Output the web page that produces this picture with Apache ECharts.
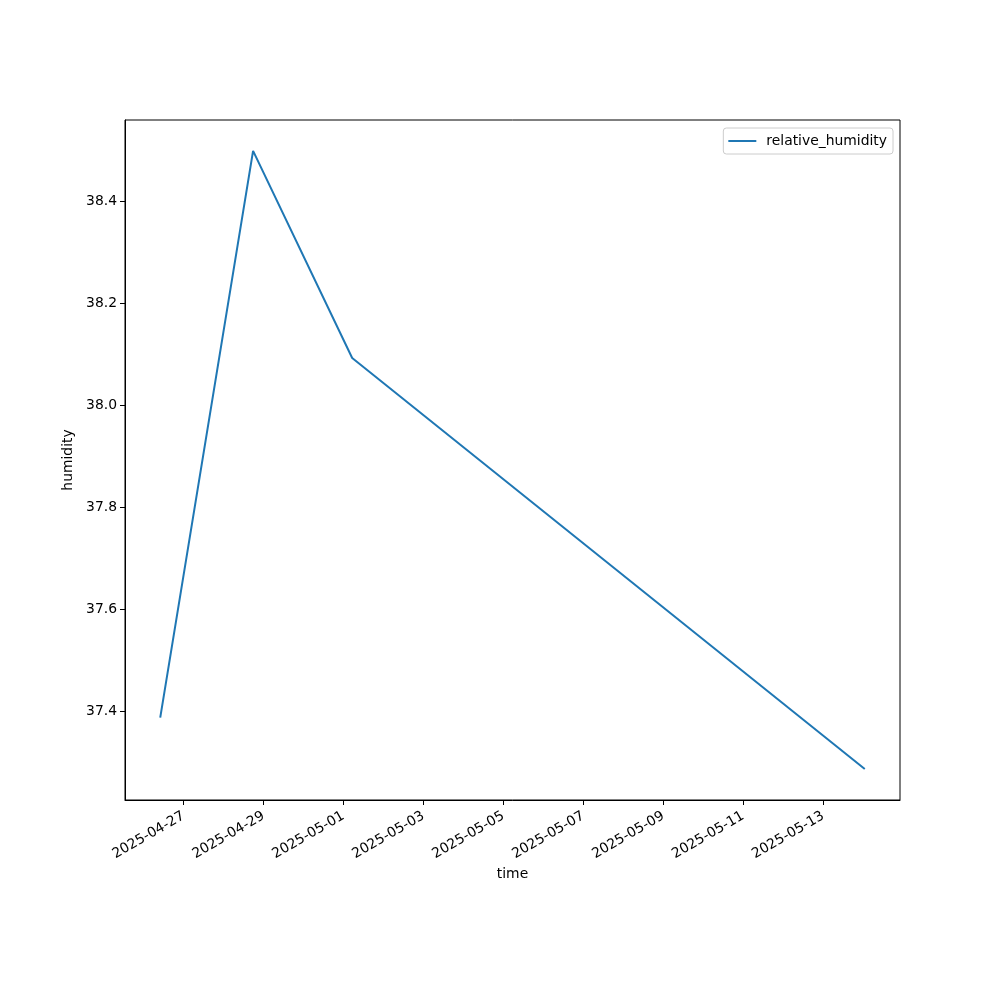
<!DOCTYPE html>
<html>
<head>
<meta charset="utf-8">
<script src="https://cdn.jsdelivr.net/npm/echarts@6/dist/echarts.min.js"></script>
<style>html,body{margin:0;padding:0;background:#fff}#c{width:1000px;height:1000px}</style>
</head>
<body>
<div id="c"></div>
<script>
const times = ['2025-04-26T10:00:00Z', '2025-04-28T17:45:00Z', '2025-05-01T05:15:00Z', '2025-05-14T01:00:00Z'];
const humidity = [37.388, 38.499, 38.093, 37.287];
const xTickLabels = ['2025-04-27','2025-04-29','2025-05-01','2025-05-03','2025-05-05','2025-05-07','2025-05-09','2025-05-11','2025-05-13'];
const yTickValues = [37.4, 37.6, 37.8, 38.0, 38.2, 38.4];

const tms = times.map(t => Date.parse(t));
const tMin = Math.min(...tms), tMax = Math.max(...tms);
const tPad = (tMax - tMin) * 0.05;
const hMin = Math.min(...humidity), hMax = Math.max(...humidity);
const hPad = (hMax - hMin) * 0.05;
const xTicks = xTickLabels.map(s => Date.parse(s + 'T00:00:00Z'));
const pad2 = n => (n < 10 ? '0' : '') + n;
const fmtDate = v => { const d = new Date(Math.round(v)); return d.getUTCFullYear() + '-' + pad2(d.getUTCMonth() + 1) + '-' + pad2(d.getUTCDate()); };

const chart = echarts.init(document.getElementById('c'), null, {renderer: 'canvas'});
const font = 'DejaVu Sans';
chart.setOption({
  animation: false,
  backgroundColor: '#fff',
  textStyle: {fontFamily: font},
  grid: {left: 125, right: 100, top: 120, bottom: 200, show: true, borderColor: '#000', borderWidth: 1, containLabel: false},
  legend: {
    right: 107, top: 128,
    data: ['relative_humidity'],
    icon: 'rect', itemWidth: 28, itemHeight: 2, itemGap: 10,
    padding: [6, 6, 6, 5],
    borderColor: '#cccccc', borderWidth: 1, borderRadius: 3,
    backgroundColor: '#fff',
    textStyle: {fontFamily: font, fontSize: 13.9, color: '#000', padding: [0, 0, 0, 5]}
  },
  xAxis: {
    type: 'value',
    min: tMin - tPad, max: tMax + tPad,
    name: 'time', nameLocation: 'middle', nameGap: 67,
    nameTextStyle: {fontFamily: font, fontSize: 13.9, color: '#000'},
    axisLine: {show: true, lineStyle: {color: '#000', width: 1}},
    axisTick: {show: true, length: 5, lineStyle: {color: '#000'}, customValues: xTicks},
    axisLabel: {show: true, rotate: 30, margin: 15, fontFamily: font, fontSize: 13.9, color: '#000', customValues: xTicks, formatter: v => fmtDate(v)},
    splitLine: {show: false}
  },
  yAxis: {
    type: 'value',
    min: hMin - hPad, max: hMax + hPad,
    name: 'humidity', nameLocation: 'middle', nameGap: 44, nameRotate: 90,
    nameTextStyle: {fontFamily: font, fontSize: 13.9, color: '#000'},
    axisLine: {show: true, lineStyle: {color: '#000', width: 1}},
    axisTick: {show: true, length: 5, lineStyle: {color: '#000'}, customValues: yTickValues},
    axisLabel: {show: true, margin: 8, fontFamily: font, fontSize: 13.9, color: '#000', customValues: yTickValues, formatter: v => v.toFixed(1)},
    splitLine: {show: false}
  },
  series: [{
    name: 'relative_humidity',
    type: 'line',
    data: tms.map((t, i) => [t, humidity[i]]),
    showSymbol: false, symbol: 'none',
    lineStyle: {color: '#1f77b4', width: 2},
    itemStyle: {color: '#1f77b4'}
  }]
});
</script>
</body>
</html>
